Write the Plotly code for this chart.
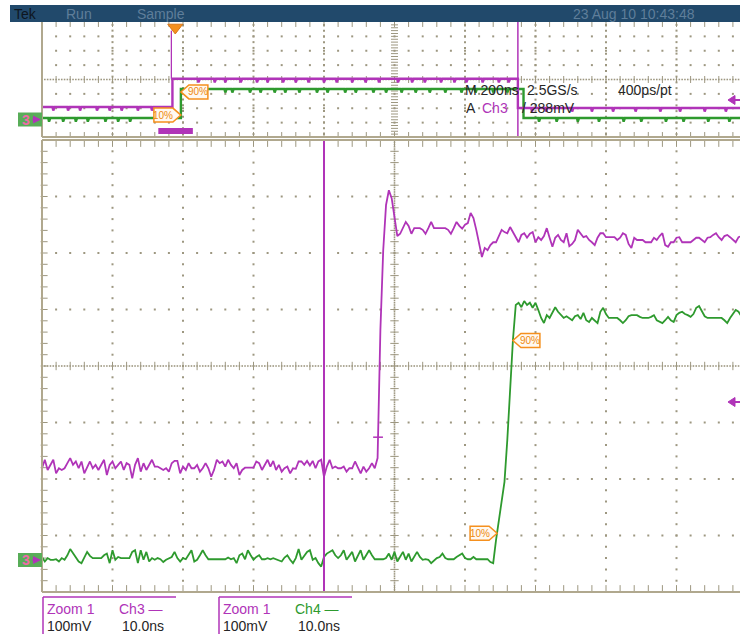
import numpy as np
import plotly.graph_objects as go

W, H = 740, 637

MAGENTA = "#b034b8"
GREEN = "#2e9a2e"
ORANGE = "#f5901e"
GRAT = "#b0a88e"
DOT = "#9d9780"
BAR = "#21496b"
BAR_TEXT = "#5f7e9a"
INK = "#262626"
FONT = "Liberation Sans, Arial, sans-serif"
NARROW = "Liberation Sans Narrow, Liberation Sans, Arial, sans-serif"

# ---------------- zoom window: 10 ns/div, 100 mV/div, 400 ps/pt ----------------
T_START_NS = -50.0
T_STEP_NS = 0.4

ch3_mv = [
    -181, -166, -184, -175, -166, -190, -181, -184, -181, -172,
    -163, -175, -169, -181, -169, -190, -178, -169, -181, -175,
    -184, -175, -166, -193, -175, -169, -181, -175, -169, -184,
    -172, -175, -199, -175, -163, -187, -172, -184, -175, -166,
    -178, -178, -181, -184, -181, -187, -172, -168, -168, -190,
    -178, -184, -172, -181, -181, -175, -187, -181, -172, -181,
    -196, -184, -166, -172, -169, -178, -166, -175, -181, -172,
    -193, -184, -180, -180, -180, -180, -169, -172, -184, -175,
    -166, -178, -168, -184, -175, -187, -181, -178, -190, -181,
    -182, -169, -169, -175, -168, -176, -168, -181, -169, -166,
    -196, -178, -166, -181, -178, -181, -181, -178, -187, -181,
    -181, -169, -181, -190, -178, -187, -181, -172, -181, -163,
    64, 205, 285, 311, 297, 267, 230, 234, 244, 255,
    248, 234, 244, 244, 244, 241, 234, 244, 255, 244,
    244, 244, 244, 244, 241, 234, 244, 255, 248, 243,
    250, 253, 271, 262, 241, 214, 193, 209, 205, 214,
    219, 219, 230, 241, 237, 235, 246, 237, 230, 219,
    232, 235, 227, 234, 237, 219, 228, 223, 230, 244,
    227, 211, 227, 232, 223, 219, 235, 212, 216, 223,
    241, 234, 228, 230, 223, 219, 214, 227, 235, 235,
    228, 228, 228, 228, 223, 227, 235, 232, 216, 209,
    227, 223, 223, 223, 219, 219, 219, 227, 223, 230,
    235, 214, 211, 219, 219, 227, 228, 219, 219, 219,
    219, 223, 227, 227, 223, 219, 227, 228, 232, 235,
    228, 223, 230, 232, 228, 223, 219, 228, 230, 232,
    227,
]

ch4_mv = [
    -338, -346, -340, -343, -343, -342, -346, -340, -343, -335,
    -324, -332, -339, -346, -349, -338, -329, -336, -340, -340,
    -340, -340, -335, -332, -349, -326, -343, -338, -340, -340,
    -339, -340, -329, -326, -349, -326, -343, -329, -346, -340,
    -343, -340, -342, -347, -343, -340, -338, -329, -340, -346,
    -340, -342, -335, -326, -346, -343, -335, -326, -335, -342,
    -342, -342, -342, -342, -342, -342, -339, -342, -340, -349,
    -335, -332, -342, -326, -335, -343, -338, -335, -342, -342,
    -340, -342, -340, -342, -343, -346, -339, -335, -343, -349,
    -340, -324, -343, -335, -329, -326, -343, -340, -349, -355,
    -338, -332, -329, -326, -335, -340, -335, -326, -343, -335,
    -329, -346, -335, -326, -343, -335, -326, -335, -342, -342,
    -342, -342, -340, -332, -343, -329, -346, -338, -329, -343,
    -332, -346, -338, -329, -338, -343, -342, -343, -349, -345,
    -340, -338, -332, -340, -342, -342, -342, -338, -335, -332,
    -340, -342, -342, -338, -342, -342, -342, -342, -342, -347,
    -349, -308, -276, -242, -205, -131, -42, 46, 108, 112,
    104, 115, 108, 112, 103, 112, 99, 85, 76, 90,
    85, 96, 104, 96, 90, 85, 88, 85, 81, 88,
    90, 83, 94, 81, 78, 85, 81, 76, 96, 103,
    92, 85, 85, 85, 85, 81, 76, 81, 88, 90,
    90, 90, 87, 85, 85, 85, 87, 90, 81, 78,
    76, 81, 87, 81, 78, 90, 94, 96, 92, 90,
    87, 92, 103, 106, 96, 88, 85, 85, 85, 85,
    85, 85, 81, 76, 85, 92, 99, 96, 88, 85,
    85,
]

# zoom-window cursor and edge marker
cursor_ns = -10.0
ch3_mark_mv = -126

# ---------------- overview window (upper), in graticule divisions ----------------
ch3_ov_levels = [-1.91, 0.05, -1.98]
ch3_ov_edges = [-3.15, 1.75]
ch3_ov_glitch_top = 3.4
ch4_ov_levels = [-2.68, -0.66, -2.68]
ch4_ov_edges = [-3.03, 1.83]
ov_cursor_div = 1.75
ov_trigger_div = -3.11
ch3_ov_dips = [-4.84, -4.63, -4.46, -4.22, -4.04, -3.87, -3.64, -3.44,
               -2.78, -2.55, -2.40, -2.18, -1.95, -1.80, -1.58, -1.40, -1.22,
               -1.00, -0.82, -0.60, -0.41, -0.22, 0.05, 0.25, 0.43, 0.66,
               0.85, 1.02, 1.25, 1.48, 1.62, 1.95, 2.15, 2.52, 2.80, 3.10,
               3.42, 3.77, 4.05, 4.40, 4.70]
ch4_ov_dips = [-4.90, -4.70, -4.52, -4.35, -4.10, -3.92, -3.75, -2.40,
               -2.30, -2.05, -1.90, -1.70, -1.55, -1.35, -1.10, -0.95, -0.70,
               -0.55, -0.30, -0.12, 0.10, 0.30, 0.50, 0.72, 0.95, 1.15, 1.40,
               1.60, 2.05, 2.30, 2.60, 2.90, 3.25, 3.50, 3.85, 4.10, 4.45, 4.75]
OV_DIP = 0.25

# ---------------- screen geometry ----------------
MAIN_LEFT, MAIN_TOP, MAIN_BOTTOM = 42, 140, 592
OV_TOP, OV_BOTTOM = 22, 137
NS_PX = 70.5 / 10.0       # pixels per ns
MV_PX = 56.5 / 100.0      # pixels per mV
DIV_X = 70.5
DIV_Y_OV = (OV_BOTTOM - OV_TOP) / 8.0
main_x_range = [-50.0, -50.0 + (W - MAIN_LEFT) / NS_PX]
ov_x_range = [-5.0, -5.0 + (W - MAIN_LEFT) / DIV_X]
MAIN_CY = (MAIN_TOP + MAIN_BOTTOM) / 2
OV_CY = (OV_TOP + OV_BOTTOM) / 2


def px(x):
    return x / W


def py(y):
    return 1 - y / H


def main_to_px(t, v):
    return MAIN_LEFT + (t - main_x_range[0]) * NS_PX, MAIN_CY - v * MV_PX


def ov_to_px(d, v):
    return 394.5 + d * DIV_X, OV_CY - v * DIV_Y_OV


def crossing(t, v, level):
    v = np.asarray(v, dtype=float)
    i = int(np.argmax(v >= level))
    return t[i - 1] + (level - v[i - 1]) * (t[i] - t[i - 1]) / (v[i] - v[i - 1])


def overview_trace(levels, edges, dips, depth, x0=-5.0, x1=5.0):
    bounds = [x0] + list(edges) + [x1]
    xs, ys = [], []
    for i, lvl in enumerate(levels):
        a, b = bounds[i], bounds[i + 1]
        xs.append(a)
        ys.append(lvl)
        for d in dips:
            if a + 0.03 < d < b - 0.03:
                xs += [d - 0.012, d, d + 0.018]
                ys += [lvl, lvl - depth, lvl]
        xs.append(b)
        ys.append(lvl)
    return xs, ys


t3 = T_START_NS + T_STEP_NS * np.arange(len(ch3_mv))
t4 = T_START_NS + T_STEP_NS * np.arange(len(ch4_mv))

fig = go.Figure()
shapes, annotations = [], []


def dots(xs, ys, axes, size=2, symbol="square", color=DOT, width=0):
    X, Y = np.meshgrid(np.asarray(xs, float), np.asarray(ys, float))
    xa, ya = axes
    fig.add_trace(go.Scatter(
        x=X.ravel(), y=Y.ravel(), mode="markers", xaxis=xa, yaxis=ya,
        hoverinfo="skip", cliponaxis=False,
        marker=dict(symbol=symbol, size=size, color=color,
                    line=dict(color=color, width=width))))


# ---- zoom-window graticule (ns, mV) ----
MAIN = ("x", "y")
dots([-40, -30, -20, -10, 10, 20, 30, 40], np.arange(-380, 381, 20), MAIN)
dots(np.arange(-48, 49, 2), [-300, -200, -100, 100, 200, 300], MAIN)
dots([0], np.arange(-396, 397, 4), MAIN, size=1.6)
dots([0], np.arange(-380, 381, 20), MAIN, size=6, symbol="line-ew", width=1)
dots(np.arange(-49.6, 49.7, 0.4), [0], MAIN, size=1.6)
dots(np.arange(-48, 49, 2), [0], MAIN, size=6, symbol="line-ns", width=1)
dots([-49.7], np.arange(-380, 381, 20), MAIN, size=5, symbol="line-ew", width=1)
dots(np.arange(-48, 49, 2), [394, -394], MAIN, size=5, symbol="line-ns", width=1)

# ---- overview graticule (divisions) ----
OV = ("x2", "y2")
dots([-4, -3, -2, -1, 1, 2, 3, 4], np.arange(-3.8, 3.81, 0.4), OV)
dots(np.arange(-4.8, 4.81, 0.2), [-3, -2, -1, 1, 2, 3], OV)
dots(np.arange(-4.96, 4.97, 0.04), [0], OV, size=1.6)
dots(np.arange(-4.8, 4.81, 0.2), [0], OV, size=5, symbol="line-ns", width=1)
dots([0], np.arange(-3.8, 3.81, 0.2), OV, size=5, symbol="line-ew", width=1)
dots(np.arange(-4.8, 4.81, 0.2), [3.85, -3.85], OV, size=4, symbol="line-ns", width=1)

# ---- overview traces ----
gx, gy = overview_trace(ch4_ov_levels, ch4_ov_edges, ch4_ov_dips, OV_DIP)
fig.add_trace(go.Scatter(x=gx, y=gy, mode="lines", xaxis="x2", yaxis="y2",
                         line=dict(color=GREEN, width=2.4), hoverinfo="skip"))
mx, my = overview_trace(ch3_ov_levels, ch3_ov_edges, ch3_ov_dips, OV_DIP)
fig.add_trace(go.Scatter(x=mx, y=my, mode="lines", xaxis="x2", yaxis="y2",
                         line=dict(color=MAGENTA, width=2.4), hoverinfo="skip"))
shapes.append(dict(type="line", xref="x2", yref="y2",
                   x0=ch3_ov_edges[0] - 0.015, x1=ch3_ov_edges[0] - 0.015,
                   y0=ch3_ov_levels[1], y1=ch3_ov_glitch_top,
                   line=dict(color=MAGENTA, width=1.3)))
shapes.append(dict(type="line", xref="x2", yref="y2", x0=ov_cursor_div, x1=ov_cursor_div,
                   y0=-4, y1=4, line=dict(color=MAGENTA, width=1.5)))
# zoom position bar
shapes.append(dict(type="rect", xref="x2", yref="y2", x0=-3.35, x1=-2.86, y0=-3.79, y1=-3.37,
                   fillcolor=MAGENTA, line=dict(width=0)))
# trigger position marker
fig.add_trace(go.Scatter(x=[ov_trigger_div], y=[3.62], mode="markers", xaxis="x2", yaxis="y2",
                         cliponaxis=False, hoverinfo="skip",
                         marker=dict(symbol="triangle-down", size=13, color=ORANGE,
                                     line=dict(color="#d9771a", width=1))))

# ---- zoom-window traces ----
shapes.append(dict(type="line", xref="x", yref="y", x0=cursor_ns, x1=cursor_ns, y0=-400, y1=400,
                   line=dict(color=MAGENTA, width=2)))
fig.add_trace(go.Scatter(x=t4, y=ch4_mv, mode="lines", xaxis="x", yaxis="y",
                         line=dict(color=GREEN, width=1.8), hoverinfo="skip"))
fig.add_trace(go.Scatter(x=t3, y=ch3_mv, mode="lines", xaxis="x", yaxis="y",
                         line=dict(color=MAGENTA, width=1.8), hoverinfo="skip"))
fig.add_trace(go.Scatter(x=[crossing(t3, ch3_mv, ch3_mark_mv)], y=[ch3_mark_mv], mode="markers",
                         xaxis="x", yaxis="y", hoverinfo="skip",
                         marker=dict(symbol="line-ew", size=7, color=MAGENTA,
                                     line=dict(color=MAGENTA, width=1.5))))


def label(x, y, text, color, size=14, anchor="left", family=FONT):
    annotations.append(dict(x=px(x), y=py(y), xref="paper", yref="paper", text=text,
                            showarrow=False, xanchor=anchor, yanchor="middle",
                            font=dict(color=color, size=size, family=family)))


def flag(tip_x, tip_y, pointing, text):
    h, body, nose = 7, 19, 8
    s = 1 if pointing == "right" else -1
    pts = [(tip_x - s * (body + nose), tip_y - h), (tip_x - s * nose, tip_y - h), (tip_x, tip_y),
           (tip_x - s * nose, tip_y + h), (tip_x - s * (body + nose), tip_y + h)]
    path = "M " + " L ".join(f"{px(a):.5f},{py(b):.5f}" for a, b in pts) + " Z"
    shapes.append(dict(type="path", path=path, xref="paper", yref="paper",
                       line=dict(color=ORANGE, width=1.5), fillcolor="#fff9f0"))
    label(tip_x - s * (nose + body / 2), tip_y, text, "#ee8a10", size=10, anchor="center", family=NARROW)


# rise-time reference levels on Ch4
base4 = float(np.mean(ch4_mv[:155]))
top4 = float(np.mean(ch4_mv[175:]))
for frac, side, txt in [(0.1, "right", "10%"), (0.9, "left", "90%")]:
    lvl = base4 + frac * (top4 - base4)
    tx, ty = main_to_px(crossing(t4, ch4_mv, lvl), lvl)
    flag(tx, ty, side, txt)

lo, hi = ch4_ov_levels[0], ch4_ov_levels[1]
for frac, side, txt in [(0.1, "right", "10%"), (0.9, "left", "90%")]:
    tx, ty = ov_to_px(ch4_ov_edges[0], lo + frac * (hi - lo))
    flag(tx, ty, side, txt)

# ---- frame / borders ----
shapes.append(dict(type="rect", xref="paper", yref="paper", x0=px(10), x1=1, y0=py(22), y1=py(5),
                   fillcolor=BAR, line=dict(width=0)))
for (x0, y0, x1, y1) in [(42, OV_TOP, 42, OV_BOTTOM), (42, OV_BOTTOM, W, OV_BOTTOM),
                         (42, MAIN_TOP, 42, MAIN_BOTTOM), (42, MAIN_TOP, W, MAIN_TOP),
                         (42, MAIN_BOTTOM, W, MAIN_BOTTOM)]:
    shapes.append(dict(type="line", xref="paper", yref="paper", x0=px(x0), x1=px(x1),
                       y0=py(y0), y1=py(y1), line=dict(color=GRAT, width=2)))

# ground markers on the left
for yc in (119.5, 560):
    shapes.append(dict(type="rect", xref="paper", yref="paper", x0=px(18), x1=px(42),
                       y0=py(yc + 7), y1=py(yc - 7), fillcolor="#58ad58", line=dict(width=0)))
    label(20, yc, "<b>3</b>", "#f06aa8", size=14)
    annotations.append(dict(x=px(41), y=py(yc), xref="paper", yref="paper", text="",
                            showarrow=True, ax=-10, ay=0, arrowhead=2, arrowsize=0.8,
                            arrowwidth=2, arrowcolor=MAGENTA))
# trigger level markers on the right: short stem with a left-pointing head
for yc in (100, 402):
    shapes.append(dict(type="line", xref="paper", yref="paper", x0=px(730), x1=px(740),
                       y0=py(yc), y1=py(yc), line=dict(color=MAGENTA, width=2)))
    shapes.append(dict(type="path", xref="paper", yref="paper",
                       path=(f"M {px(728):.5f},{py(yc):.5f} L {px(735):.5f},{py(yc - 4.5):.5f} "
                             f"L {px(735):.5f},{py(yc + 4.5):.5f} Z"),
                       fillcolor=MAGENTA, line=dict(color=MAGENTA, width=1)))

# ---- status bar ----
label(12, 14, "Tek", "#0e1620", size=14)
label(64, 14, "Run", BAR_TEXT, size=14)
label(135, 14, "Sample", BAR_TEXT, size=14)
label(571, 14, "23 Aug 10 10:43:48", BAR_TEXT, size=14)

# ---- acquisition readouts ----
label(463, 90, "M 200ns", INK, size=14)
label(525, 90, "2.5GS/s", INK, size=14)
label(616, 90, "400ps/pt", INK, size=14)
label(464, 108, "A", INK, size=14)
label(480, 108, "Ch3", MAGENTA, size=14)
label(520, 108, "/ 288mV", INK, size=14)

# ---- zoom readouts ----
for xl, ch, col in [(43, "Ch3 —", MAGENTA), (219, "Ch4 —", GREEN)]:
    shapes.append(dict(type="line", xref="paper", yref="paper", x0=px(xl), x1=px(xl),
                       y0=py(597), y1=py(634), line=dict(color=MAGENTA, width=1.5)))
    shapes.append(dict(type="line", xref="paper", yref="paper", x0=px(xl), x1=px(xl + 133),
                       y0=py(597), y1=py(597), line=dict(color=MAGENTA, width=1.5)))
    label(xl + 2, 609, "Zoom 1", MAGENTA, size=14)
    label(xl + 74, 609, ch, col, size=14)
    label(xl + 2, 626, "100mV", INK, size=14)
    label(xl + 77, 626, "10.0ns", INK, size=14)

fig.update_layout(
    width=W, height=H, margin=dict(l=0, r=0, t=0, b=0),
    paper_bgcolor="white", plot_bgcolor="white", showlegend=False,
    xaxis=dict(domain=[MAIN_LEFT / W, 1], range=main_x_range, visible=False),
    yaxis=dict(domain=[1 - MAIN_BOTTOM / H, 1 - MAIN_TOP / H], range=[-400, 400], visible=False),
    xaxis2=dict(domain=[MAIN_LEFT / W, 1], range=ov_x_range, visible=False, anchor="y2"),
    yaxis2=dict(domain=[1 - OV_BOTTOM / H, 1 - OV_TOP / H], range=[-4, 4], visible=False, anchor="x2"),
    shapes=shapes, annotations=annotations,
)

fig.write_html("out.html", config={"displayModeBar": False})
